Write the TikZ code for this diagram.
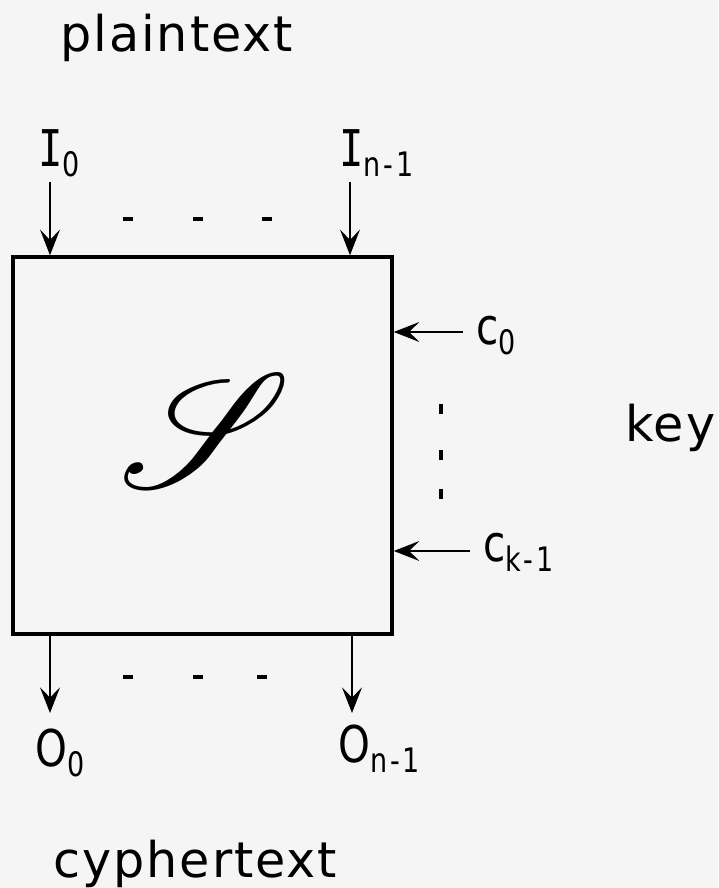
\documentclass[tikz,border=0pt]{standalone}
\usepackage{fontspec}
\usepackage{mathrsfs}
\setmainfont{DejaVu Sans}
\newfontfamily\wordfont{DejaVu Sans}[LetterSpace=4]
\newfontfamily\lblfont{DejaVu Sans}[FakeStretch=0.8]
\newfontfamily\lblI{DejaVu Sans Mono}[FakeStretch=0.8]
\usetikzlibrary{arrows.meta}

\definecolor{paper}{gray}{0.96}
% lowered index, set smaller
\newcommand{\lowidx}[1]{\raisebox{-7pt}{\fontsize{24}{26}\lblfont #1}}
\newcommand{\nmone}{n\kern2pt-\kern2pt1}
\newcommand{\kmone}{k\kern2pt-\kern2pt1}

\begin{document}
\begin{tikzpicture}[x=0.025cm, y=0.025cm,
    sig/.style={line width=2pt, -{Stealth[length=18pt, width=14pt, inset=7pt]}},
    lbl/.style={inner sep=0pt, anchor=base west, font=\fontsize{36}{40}\lblfont},
    word/.style={inner sep=0pt, anchor=base west, font=\fontsize{35}{40}\wordfont},
    dot/.style={line width=2.6pt}]
    \fill[paper] (0,0) rectangle (718,888);
    \useasboundingbox (0,0) rectangle (718,888);

    % the substitution box
    \node[draw, line width=2.4pt, minimum width=9.475cm, minimum height=9.425cm, inner sep=0pt] (sbox) at (202.5,442.5) {};
    \node[inner sep=0pt] (glyph) at (206,457) {\resizebox{4.3cm}{!}{$\mathscr{S}$}};

    % inputs
    \node[word] (plain) at (60,836) {plaintext};
    \node[lbl] (I0) at (38,721) {{\lblI I}\lowidx{0}};
    \node[lbl] (In) at (339,721) {{\lblI I}\lowidx{\nmone}};
    \coordinate (in0) at (50,706);
    \coordinate (inn) at (350,706);
    \draw[sig] (in0) -- (in0 |- sbox.north);
    \draw[sig] (inn) -- (inn |- sbox.north);
    \foreach \x in {128,198,267}
        \draw[dot] (\x-5,669) -- (\x+5,669);

    % key bits
    \node[lbl] (c0) at (476,543) {c\lowidx{0}};
    \node[lbl] (ck) at (483,326) {c\lowidx{\kmone}};
    \node[word] (key) at (625,446) {key};
    \coordinate (k0) at (463,556);
    \coordinate (kk) at (470,337);
    \draw[sig] (k0) -- (k0 -| sbox.east);
    \draw[sig] (kk) -- (kk -| sbox.east);
    \foreach \y in {479,433,394}
        \draw[dot] (441,\y-5) -- (441,\y+5);

    % outputs
    \coordinate (out0) at (50,175);
    \coordinate (outn) at (352,175);
    \draw[sig] (out0 |- sbox.south) -- (out0);
    \draw[sig] (outn |- sbox.south) -- (outn);
    \foreach \x in {128,198,262}
        \draw[dot] (\x-5,211) -- (\x+5,211);
    \node[lbl] (O0) at (35,121) {O\lowidx{0}};
    \node[lbl] (On) at (338,125) {O\lowidx{\nmone}};
    \node[word] (cypher) at (53,11) {cyphertext};
\end{tikzpicture}
\end{document}
